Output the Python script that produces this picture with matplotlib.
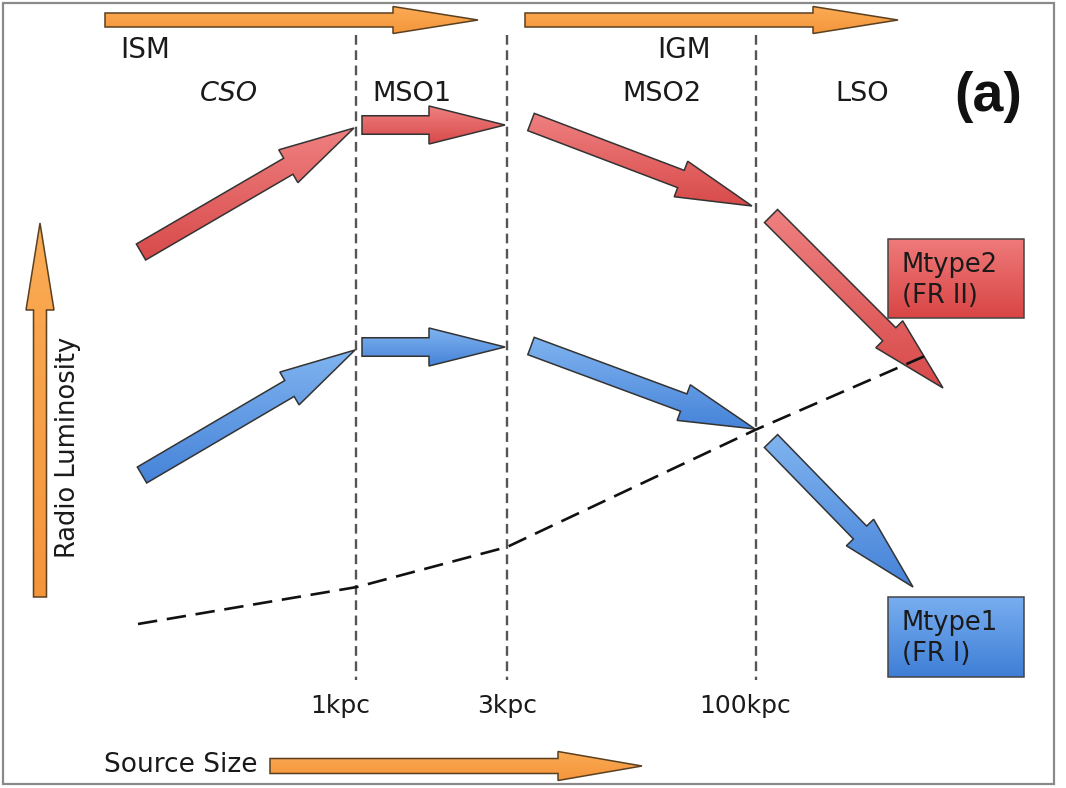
import numpy as np
import matplotlib
matplotlib.use("Agg")
import matplotlib.pyplot as plt
from matplotlib.patches import FancyArrow, Rectangle
from matplotlib.colors import LinearSegmentedColormap

plt.rcParams["lines.scale_dashes"] = False
plt.rcParams["font.family"] = ["DejaVu Sans"]

# ---------------- data (diagram coordinates, pixels from top-left) ----------------
# Mtype2 (FR II) evolutionary track: tail and tip of each arrow
red_x0 = [141, 362, 531, 771]
red_y0 = [252, 125, 122, 216]
red_x1 = [354, 505, 752, 943]
red_y1 = [128, 125, 206, 388]
# Mtype1 (FR I) evolutionary track
blue_x0 = [142, 362, 531, 771]
blue_y0 = [475, 347, 346, 441]
blue_x1 = [355, 505, 755, 913]
blue_y1 = [350, 347, 429, 587]
# dividing line between the two types
div_x = [138, 357, 507, 755, 925]
div_y = [624, 587, 547, 430, 356]
# source size boundaries
bound_x = [356, 507, 756]
bound_labels = ["1kpc", "3kpc", "100kpc"]
bound_label_x = [340, 507, 745]
# stage labels
stage_labels = ["CSO", "MSO1", "MSO2", "LSO"]
stage_x = [229, 412, 662, 862]
stage_style = ["italic", "normal", "normal", "normal"]
# medium labels and arrows
medium_labels = ["ISM", "IGM"]
medium_x = [145, 684]
medium_x0 = [105, 525]
medium_x1 = [478, 898]

W, H = 1066, 788
fig = plt.figure(figsize=(W / 100, H / 100), dpi=100)
ax = fig.add_axes([0, 0, 1, 1])
ax.axis("off")

TXT = "#1a1a1a"


def grad_fill(patch, ext, c_top, c_bot, z):
    xmin, xmax, ymin, ymax = ext
    cmap = LinearSegmentedColormap.from_list("g", [c_top, c_bot])
    g = np.linspace(0, 1, 256).reshape(-1, 1)
    im = ax.imshow(g, cmap=cmap, extent=(xmin, xmax, ymax, ymin), origin="upper",
                   aspect="auto", zorder=z, interpolation="bilinear")
    im.set_clip_path(patch)


def arrow(x0, y0, x1, y1, width, hw, hl, c_top, c_bot, z=3, ec="#333333"):
    p = FancyArrow(x0, y0, x1 - x0, y1 - y0, width=width, head_width=hw, head_length=hl,
                   length_includes_head=True, fc="none", ec=ec, lw=1.1, zorder=z + 0.1,
                   joinstyle="miter")
    ax.add_patch(p)
    xy = np.asarray(p.get_xy())
    grad_fill(p, (xy[:, 0].min(), xy[:, 0].max(), xy[:, 1].min(), xy[:, 1].max()),
              c_top, c_bot, z)


def box(x, y, w, h, c_top, c_bot, z=3):
    r = Rectangle((x, y), w, h, fc="none", ec="#444444", lw=1.1, zorder=z + 0.1)
    ax.add_patch(r)
    grad_fill(r, (x, x + w, y, y + h), c_top, c_bot, z)


# frame
ax.add_patch(Rectangle((3, 3), 1051, 781, fc="white", ec="#8a8a8a", lw=1.6, zorder=0))

# boundaries
for bx in bound_x:
    ax.plot([bx, bx], [35, 680], color="#555555", lw=1.7, dashes=(7, 4), zorder=1)
for lab, lx in zip(bound_labels, bound_label_x):
    ax.text(lx, 706, lab, ha="center", va="center", fontsize=18, color=TXT)

# medium arrows on top
orange_top, orange_bot = "#fbab55", "#f4953a"
for x0, x1 in zip(medium_x0, medium_x1):
    arrow(x0, 20, x1, 20, 14, 27, 85, orange_top, orange_bot, ec="#5a4020")
for lab, mx in zip(medium_labels, medium_x):
    ax.text(mx, 50, lab, ha="center", va="center", fontsize=20, color=TXT)

for lab, sx, st in zip(stage_labels, stage_x, stage_style):
    ax.text(sx, 94, lab, ha="center", va="center", fontsize=19.5, style=st, color=TXT)

ax.text(988, 97, "(a)", ha="center", va="center", fontsize=40, fontweight="bold",
        family=["Liberation Sans", "DejaVu Sans"], color="#111111")

# evolutionary tracks
for x0, y0, x1, y1 in zip(red_x0, red_y0, red_x1, red_y1):
    arrow(x0, y0, x1, y1, 18.5, 38, 76, "#ef8080", "#d84a4a")
for x0, y0, x1, y1 in zip(blue_x0, blue_y0, blue_x1, blue_y1):
    arrow(x0, y0, x1, y1, 18.5, 38, 76, "#80b4f0", "#4683d8")

# dividing line
ax.plot(div_x, div_y, color="#111111", lw=1.9, dashes=(14, 7), zorder=5)

# type boxes
box(888, 239, 136, 79, "#ef7a7a", "#d94545")
ax.text(902, 265, "Mtype2", ha="left", va="center", fontsize=18.5, color=TXT, zorder=6)
ax.text(902, 296, "(FR II)", ha="left", va="center", fontsize=18.5, color=TXT, zorder=6)
box(888, 597, 136, 80, "#78aef0", "#3f7ed6")
ax.text(902, 623, "Mtype1", ha="left", va="center", fontsize=18.5, color=TXT, zorder=6)
ax.text(902, 654, "(FR I)", ha="left", va="center", fontsize=18.5, color=TXT, zorder=6)

# axes arrows
arrow(40, 597, 40, 223, 13, 28, 87, orange_top, orange_bot, ec="#5a4020")
ax.text(68, 447, "Radio Luminosity", ha="center", va="center", rotation=90, fontsize=18.5,
        color=TXT)
arrow(270, 766, 642, 766, 15, 29, 84, orange_top, orange_bot, ec="#5a4020")
ax.text(181, 765, "Source Size", ha="center", va="center", fontsize=19, color=TXT)

ax.set_xlim(0, W)
ax.set_ylim(H, 0)
fig.savefig("out.png", dpi=100)
